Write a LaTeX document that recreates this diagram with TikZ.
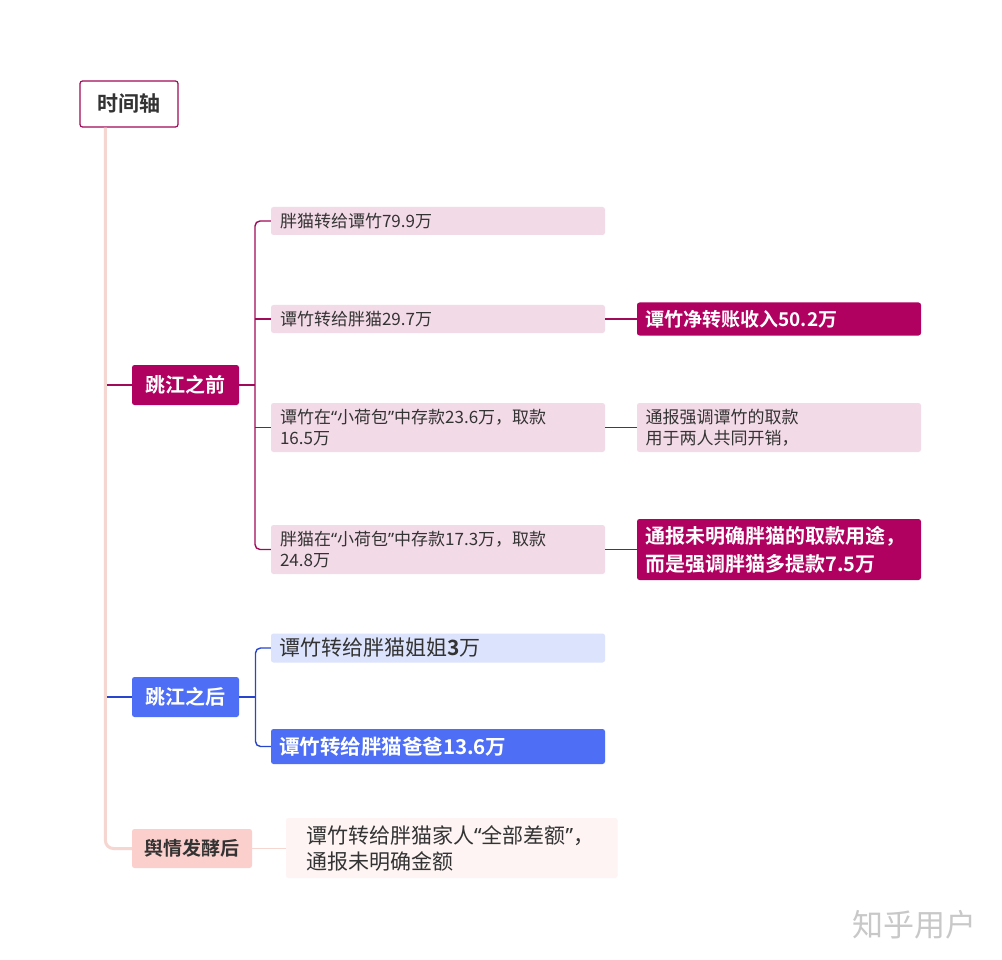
\documentclass[tikz,border=0pt]{standalone}
\usepackage{fontspec}
\setmainfont{Noto Sans CJK SC}[BoldFont={Noto Sans CJK SC Bold}]
\newfontfamily\qfont{Noto Sans}
\newcommand{\myLq}{{\qfont “}}
\newcommand{\myRq}{{\qfont ”}}
\definecolor{mag}{RGB}{176,0,96}
\definecolor{magline}{RGB}{160,10,90}
\definecolor{pinkfill}{RGB}{243,218,231}
\definecolor{txt}{RGB}{51,51,51}
\definecolor{blu}{RGB}{77,110,245}
\definecolor{bluline}{RGB}{40,70,205}
\definecolor{lblu}{RGB}{220,227,252}
\definecolor{salmon}{RGB}{251,207,204}
\definecolor{efill}{RGB}{253,244,243}
\definecolor{trunkc}{RGB}{246,214,208}
\definecolor{wm}{RGB}{200,200,200}
\tikzset{
  box/.style={rectangle, rounded corners=2.5pt, inner ysep=0pt, align=left},
  childbox/.style={box, fill=pinkfill, text=txt, inner xsep=9pt, text width=316pt, font=\fontsize{17}{21}\selectfont},
  rbox/.style={box, inner xsep=8.5pt, text width=267pt},
  groupbox/.style={box, align=center, text=white, font=\bfseries\fontsize{20}{24}\selectfont},
  magln/.style={draw=magline, line width=1.4pt},
  bluln/.style={draw=bluline, line width=1.4pt},
  trunkln/.style={draw=trunkc, line width=3pt},
}
\begin{document}
\begin{tikzpicture}[x=1pt,y=-1pt]
\useasboundingbox[fill=white] (0,0) rectangle (1002,960);
% root
\node[box, align=center, draw=magline, line width=1.2pt, fill=white, text=txt, minimum width=98pt, minimum height=46pt, font=\bfseries\fontsize{21}{25}\selectfont] (root) at (129,104) {时间轴};
% groups
\node[groupbox, fill=mag, minimum width=107pt, minimum height=40pt] (g1) at (185.5,385) {跳江之前};
\node[groupbox, fill=blu, minimum width=107pt, minimum height=40pt] (g2) at (185.5,697) {跳江之后};
\node[groupbox, fill=salmon, text=txt, minimum width=120pt, minimum height=39pt, font=\bfseries\fontsize{19}{23}\selectfont] (g3) at (192,848.5) {舆情发酵后};
% children of g1
\node[childbox, minimum height=28pt] (c1) at (438,221) {胖猫转给谭竹79.9万};
\node[childbox, minimum height=28pt] (c2) at (438,319) {谭竹转给胖猫29.7万};
\node[childbox, minimum height=49pt] (c3) at (438,427.5) {谭竹在\myLq 小荷包\myRq 中存款23.6万，取款\\16.5万};
\node[childbox, minimum height=49pt] (c4) at (438,549.5) {胖猫在\myLq 小荷包\myRq 中存款17.3万，取款\\24.8万};
% right boxes
\node[rbox, fill=mag, text=white, minimum height=33pt, font=\bfseries\fontsize{19}{23}\selectfont] (r2) at (779,319) {谭竹净转账收入50.2万};
\node[rbox, fill=pinkfill, text=txt, minimum height=49pt, font=\fontsize{17}{21}\selectfont] (r3) at (779,427.5) {通报强调谭竹的取款\\用于两人共同开销，};
\node[rbox, fill=mag, text=white, minimum height=61pt, font=\bfseries\fontsize{20}{28}\selectfont] (r4) at (779,549.5) {通报未明确胖猫的取款用途，\\而是强调胖猫多提款7.5万};
% children of g2
\node[box, fill=lblu, text=txt, inner xsep=8pt, text width=318pt, minimum height=29pt, font=\fontsize{21}{25}\selectfont] (d1) at (438,648) {谭竹转给胖猫姐姐\textbf{3}万};
\node[box, fill=blu, text=white, inner xsep=8pt, text width=318pt, minimum height=35pt, font=\bfseries\fontsize{20.5}{25}\selectfont] (d2) at (438,746.5) {谭竹转给胖猫爸爸13.6万};
% child of g3
\node[box, fill=efill, text=txt, inner xsep=20pt, text width=291.5pt, minimum height=60pt, font=\fontsize{21}{26}\selectfont] (e1) at (451.75,848) {谭竹转给胖猫家人\myLq 全部差额\myRq ，\\通报未明确金额};
% watermark
\node[text=wm, inner sep=0pt, anchor=west, font=\fontsize{31}{34}\selectfont] (wmk) at (852,925) {知乎用户};
% connectors
\coordinate (tk) at ([xshift=26pt]root.south west);
\coordinate (b1) at (255,0);
\coordinate (b2) at (255.5,0);
\draw[trunkln, rounded corners=8pt] (tk) |- (g3.west);
\draw[magln] (tk |- g1.west) ++(2,0) -- (g1.west);
\draw[bluln] (tk |- g2.west) ++(2,0) -- (g2.west);
\draw[trunkln, line width=1.4pt] (g3.east) -- (e1.west |- g3.east);
\draw[magln] (g1.east) -- (b1 |- g1.east);
\draw[magln, rounded corners=5pt] (c1.west) -| (b1 |- c4.west) -- (c4.west);
\draw[magln] (b1 |- c2.west) -- (c2.west);
\draw[magln] (b1 |- c3.west) -- (c3.west);
\draw[magln] (c2.east) -- (r2.west |- c2.east);
\draw[magln] (c3.east) -- (r3.west |- c3.east);
\draw[magln] (c4.east) -- (r4.west |- c4.east);
\draw[bluln] (g2.east) -- (b2 |- g2.east);
\draw[bluln, rounded corners=5pt] (d1.west) -| (b2 |- d2.west) -- (d2.west);
\end{tikzpicture}
\end{document}
